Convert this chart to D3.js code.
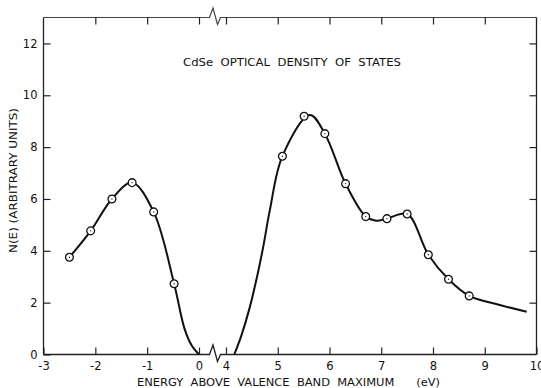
<!DOCTYPE html>
<html>
<head>
<meta charset="utf-8">
<script src="https://cdn.jsdelivr.net/npm/d3@7"></script>
<style>
body { margin: 0; background: #fff; }
svg text { font-family: "DejaVu Sans", "Liberation Sans", sans-serif; fill: #111; }
.axis path.domain { display: none; }
.axis line { stroke: #222; stroke-width: 1.2; }
</style>
</head>
<body>
<svg width="541" height="388"></svg>
<script>
// **** values ****

var xTicks = [-3, -2, -1, 0, 4, 5, 6, 7, 8, 9, 10];
var xInnerTicks = [-2, -1, 0, 4, 5, 6, 7, 8, 9];
var yTicks = [0, 2, 4, 6, 8, 10, 12];

// measured points (circles)
var pointE = [-2.5, -2.09, -1.68, -1.29, -0.875, -0.48,
              5.09, 5.51, 5.91, 6.31, 6.70, 7.11, 7.50, 7.91, 8.30, 8.70];
var pointN = [3.75, 4.77, 6.0, 6.63, 5.5, 2.73,
              7.65, 9.19, 8.52, 6.59, 5.32, 5.24, 5.42, 3.85, 2.90, 2.26];

// drawn curve, valence band side of the break
var leftE = [-2.5, -2.09, -1.68, -1.29, -0.875, -0.48, -0.28, -0.14, 0];
var leftN = [3.75, 4.77, 6.0, 6.63, 5.5, 2.73, 1.0, 0.35, 0];

// drawn curve, conduction band side
var rightE = [4.16, 4.3, 4.45, 4.6, 4.72, 4.85, 5.09, 5.62, 5.91, 6.31, 6.70, 6.9, 7.11, 7.50, 7.91, 8.30, 8.70, 9.29, 9.81];
var rightN = [0, 0.75, 1.75, 3.0, 4.16, 5.6, 7.65, 9.24, 8.52, 6.59, 5.32, 5.16, 5.24, 5.42, 3.85, 2.90, 2.26, 1.91, 1.65];

// **** scales (piecewise, break between 0 and 4 eV) ****

var x = d3.scaleLinear()
    .domain([-3, 0, 4, 10]).range([43.5, 199, 226, 536.5]);

var y = d3.scaleLinear()
    .domain([0, 13]).range([354.5, 17.5]);

var svg = d3.select('svg');

// frame with the broken top and bottom edges
var xLeft = x(-3), xRight = x(10), yTop = y(13), yBottom = y(0);
var mid = (x(0) + x(4)) / 2;

function brokenEdge(yy) {
    return 'M' + xLeft + ',' + yy +
        'L' + (mid - 3) + ',' + yy +
        'L' + (mid + 0.5) + ',' + (yy - 9.5) +
        'L' + (mid + 5) + ',' + (yy + 7) +
        'L' + (mid + 8) + ',' + yy +
        'L' + xRight + ',' + yy;
}

svg.append('path')
    .attr('d', brokenEdge(yTop))
    .attr('fill', 'none').attr('stroke', '#444').attr('stroke-width', 1.2);
svg.append('path')
    .attr('d', brokenEdge(yBottom))
    .attr('fill', 'none').attr('stroke', '#222').attr('stroke-width', 1.3);
svg.append('line')
    .attr('x1', xLeft).attr('x2', xLeft).attr('y1', yTop).attr('y2', yBottom)
    .attr('stroke', '#222').attr('stroke-width', 1.3);
svg.append('line')
    .attr('x1', xRight).attr('x2', xRight).attr('y1', yTop).attr('y2', yBottom)
    .attr('stroke', '#222').attr('stroke-width', 1.3);

// **** axes ****

function label(d) { return d < 0 ? '-' + Math.abs(d) : String(d); }

svg.append('g').attr('class', 'x axis')
    .attr('transform', 'translate(0,' + yBottom + ')')
    .call(d3.axisBottom(x).tickValues(xTicks).tickSize(-7).tickPadding(7).tickFormat(label))
    .selectAll('text').style('font-size', '11.5px');

svg.append('g').attr('class', 'axis')
    .attr('transform', 'translate(0,' + yTop + ')')
    .call(d3.axisTop(x).tickValues(xInnerTicks).tickSize(-7).tickFormat(''));

svg.append('g').attr('class', 'y axis')
    .attr('transform', 'translate(' + xLeft + ',0)')
    .call(d3.axisLeft(y).tickValues(yTicks).tickSize(-7).tickPadding(6).tickFormat(label))
    .selectAll('text').style('font-size', '11.5px');

svg.append('g').attr('class', 'axis')
    .attr('transform', 'translate(' + xRight + ',0)')
    .call(d3.axisRight(y).tickValues(yTicks.slice(1)).tickSize(-7).tickFormat(''));

svg.append('text')
    .text('ENERGY  ABOVE  VALENCE  BAND  MAXIMUM      (eV)')
    .attr('x', 137).attr('y', 386)
    .attr('textLength', 303).attr('lengthAdjust', 'spacingAndGlyphs')
    .style('white-space', 'pre')
    .style('font-size', '10.5px');

svg.append('text')
    .text('N(E) (ARBITRARY UNITS)')
    .attr('transform', 'translate(17,180.5) rotate(-90)')
    .attr('text-anchor', 'middle')
    .attr('textLength', 145).attr('lengthAdjust', 'spacingAndGlyphs')
    .style('font-size', '10.5px');

svg.append('text')
    .text('CdSe  OPTICAL  DENSITY  OF  STATES')
    .attr('x', 183).attr('y', 66)
    .attr('textLength', 218).attr('lengthAdjust', 'spacingAndGlyphs')
    .style('white-space', 'pre')
    .style('font-size', '10.5px');

// **** curve and points ****

var line = d3.line()
    .x(function(d) { return x(d[0]); })
    .y(function(d) { return y(d[1]); })
    .curve(d3.curveCatmullRom.alpha(0.5));

[[leftE, leftN], [rightE, rightN]].forEach(function(s) {
    svg.append('path')
        .datum(s[0].map(function(e, i) { return [e, s[1][i]]; }))
        .attr('d', line)
        .attr('fill', 'none')
        .attr('stroke', '#111')
        .attr('stroke-width', 2);
});

var pts = svg.append('g').selectAll('g')
    .data(pointE.map(function(e, i) { return [e, pointN[i]]; }))
    .enter().append('g')
    .attr('transform', function(d) { return 'translate(' + x(d[0]) + ',' + y(d[1]) + ')'; });

pts.append('circle').attr('r', 3.9)
    .attr('fill', '#fff').attr('stroke', '#111').attr('stroke-width', 1.3);
pts.append('circle').attr('r', 0.7).attr('fill', '#222');
</script>
</body>
</html>
